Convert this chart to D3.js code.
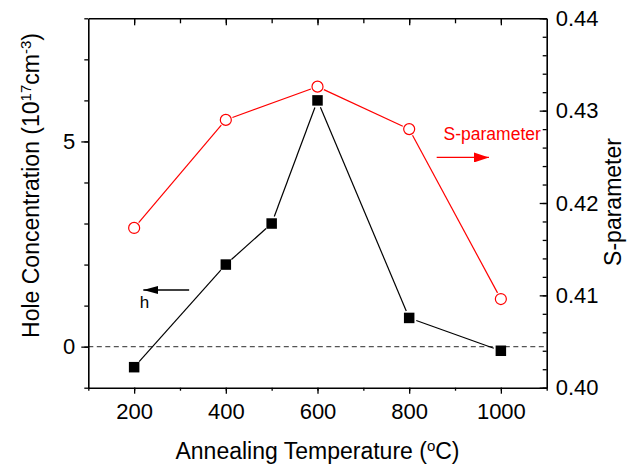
<!DOCTYPE html>
<html>
<head>
<meta charset="utf-8">
<script src="https://cdn.jsdelivr.net/npm/d3@7/dist/d3.min.js"></script>
<style>
  html, body { margin: 0; padding: 0; background: #fff; }
  svg { display: block; font-family: "Liberation Sans", Arial, sans-serif; }
</style>
</head>
<body>
<svg id="chart" width="631" height="466"></svg>
<script>
// Annealing temperatures (°C)
const temperatures = [200, 400, 500, 600, 800, 1000];
// Hole concentration (10^17 cm^-3)
const holeConc = [-0.5, 2.0, 3.0, 6.0, 0.7, -0.1];
// S-parameter temperatures and values
const sTemperatures = [200, 400, 600, 800, 1000];
const sParam = [0.4173, 0.4290, 0.4326, 0.4280, 0.4096];

// Tick values
const xMajorTicks = [200, 400, 600, 800, 1000];
const xMinorTicks = [100, 200, 300, 400, 500, 600, 700, 800, 900, 1000, 1100];
const yLeftMajorTicks = [0, 5];
const yLeftMinorTicks = [-1, 0, 1, 2, 3, 4, 5, 6, 7, 8];
const yRightMajorTicks = [0.40, 0.41, 0.42, 0.43, 0.44];
const yRightMinorTicks = d3.range(0, 21).map(i => +(0.40 + i * 0.002).toFixed(3));

const svg = d3.select("#chart");
const margin = { left: 88.3, top: 18.3, right: 631 - 546.7, bottom: 466 - 387.7 };
const W = 631 - margin.left - margin.right;
const H = 466 - margin.top - margin.bottom;

const g = svg.append("g").attr("transform", `translate(${margin.left},${margin.top})`);

const x = d3.scaleLinear().domain([100, 1100]).range([0, W]);
const yL = d3.scaleLinear().domain([-1, 8]).range([H, 0]);
const yR = d3.scaleLinear().domain([0.40, 0.44]).range([H, 0]);

// zero reference line
g.append("line")
  .attr("x1", 0).attr("x2", W)
  .attr("y1", yL(0)).attr("y2", yL(0))
  .attr("stroke", "#555").attr("stroke-width", 1.2)
  .attr("stroke-dasharray", "5,3.5");

// Shortened connecting segments leaving a gap around each marker
function gappedSegments(xs, ys, gap) {
  const segs = [];
  for (let i = 0; i < xs.length - 1; i++) {
    const x1 = xs[i], y1 = ys[i], x2 = xs[i + 1], y2 = ys[i + 1];
    const dx = x2 - x1, dy = y2 - y1, len = Math.hypot(dx, dy);
    const ux = dx / len, uy = dy / len;
    segs.push([x1 + ux * gap, y1 + uy * gap, x2 - ux * gap, y2 - uy * gap]);
  }
  return segs;
}

// S-parameter series (red, open circles)
const sx = sTemperatures.map(d => x(d));
const sy = sParam.map(d => yR(d));
g.append("g").selectAll("line")
  .data(gappedSegments(sx, sy, 7))
  .join("line")
  .attr("x1", d => d[0]).attr("y1", d => d[1])
  .attr("x2", d => d[2]).attr("y2", d => d[3])
  .attr("stroke", "#ff0000").attr("stroke-width", 1.2);
g.append("g").selectAll("circle")
  .data(sParam)
  .join("circle")
  .attr("cx", (d, i) => x(sTemperatures[i]))
  .attr("cy", d => yR(d))
  .attr("r", 5.5)
  .attr("fill", "#fff").attr("stroke", "#ff0000").attr("stroke-width", 1.2);

// Hole concentration series (black, filled squares)
const hx = temperatures.map(d => x(d));
const hy = holeConc.map(d => yL(d));
g.append("g").selectAll("line")
  .data(gappedSegments(hx, hy, 7.5))
  .join("line")
  .attr("x1", d => d[0]).attr("y1", d => d[1])
  .attr("x2", d => d[2]).attr("y2", d => d[3])
  .attr("stroke", "#000").attr("stroke-width", 1.2);
const sq = 10.5;
g.append("g").selectAll("rect")
  .data(holeConc)
  .join("rect")
  .attr("x", (d, i) => x(temperatures[i]) - sq / 2)
  .attr("y", d => yL(d) - sq / 2)
  .attr("width", sq).attr("height", sq)
  .attr("fill", "#000");

// Axes
function styleAxis(sel) {
  sel.selectAll("path.domain").attr("stroke", "#000").attr("stroke-width", 1.6);
  sel.selectAll(".tick line").attr("stroke", "#000").attr("stroke-width", 1.3);
  sel.selectAll(".tick text").attr("fill", "#000").attr("font-size", 22)
    .attr("font-family", "'Liberation Sans', Arial, sans-serif");
}

// bottom
g.append("g").attr("transform", `translate(0,${H})`)
  .call(d3.axisBottom(x).tickValues(xMinorTicks).tickSize(3).tickSizeOuter(0).tickFormat(""))
  .call(styleAxis);
g.append("g").attr("transform", `translate(0,${H})`)
  .call(d3.axisBottom(x).tickValues(xMajorTicks).tickSize(6).tickSizeOuter(0).tickPadding(9.5).tickFormat(d3.format("d")))
  .call(styleAxis)
  .call(a => a.select("path.domain").remove());
// top
g.append("g")
  .call(d3.axisTop(x).tickValues(xMinorTicks.filter(v => v > 100 && v < 1100)).tickSize(-5).tickSizeOuter(0).tickFormat(""))
  .call(styleAxis);
g.append("g")
  .call(d3.axisTop(x).tickValues(xMajorTicks).tickSize(-7).tickSizeOuter(0).tickFormat(""))
  .call(styleAxis)
  .call(a => a.select("path.domain").remove());
// left
g.append("g")
  .call(d3.axisLeft(yL).tickValues(yLeftMinorTicks).tickSize(4).tickSizeOuter(0).tickFormat(""))
  .call(styleAxis);
g.append("g")
  .call(d3.axisLeft(yL).tickValues(yLeftMajorTicks).tickSize(7).tickSizeOuter(0).tickPadding(6).tickFormat(d3.format("d")))
  .call(styleAxis)
  .call(a => a.select("path.domain").remove());
// right
g.append("g").attr("transform", `translate(${W},0)`)
  .call(d3.axisRight(yR).tickValues(yRightMinorTicks).tickSize(-4).tickSizeOuter(0).tickFormat(""))
  .call(styleAxis);
g.append("g").attr("transform", `translate(${W},0)`)
  .call(d3.axisRight(yR).tickValues(yRightMajorTicks).tickSize(-7).tickSizeOuter(0).tickPadding(9).tickFormat(d3.format(".2f")))
  .call(styleAxis)
  .call(a => a.select("path.domain").remove());

// Axis titles
const titleSize = 23;
const supSize = 15;
svg.append("text")
  .attr("x", margin.left + W / 2).attr("y", 459)
  .attr("text-anchor", "middle").attr("font-size", titleSize)
  .call(t => {
    t.append("tspan").text("Annealing Temperature (");
    t.append("tspan").attr("font-size", supSize).attr("dy", -8).text("o");
    t.append("tspan").attr("dy", 8).text("C)");
  });

svg.append("text")
  .attr("transform", `translate(38.5,185.5) rotate(-90)`)
  .attr("text-anchor", "middle").attr("font-size", titleSize)
  .call(t => {
    t.append("tspan").text("Hole Concentration (10");
    t.append("tspan").attr("font-size", supSize).attr("dy", -8).text("17");
    t.append("tspan").attr("dy", 8).text("cm");
    t.append("tspan").attr("font-size", supSize).attr("dy", -8).text("-3");
    t.append("tspan").attr("dy", 8).text(")");
  });

svg.append("text")
  .attr("transform", `translate(621,202) rotate(-90)`)
  .attr("text-anchor", "middle").attr("font-size", titleSize)
  .text("S-parameter");

// Series annotations with arrows
const defs = svg.append("defs");
function arrowHead(id, color, h) {
  defs.append("marker")
    .attr("id", id).attr("viewBox", `0 0 15 ${h}`)
    .attr("refX", 15).attr("refY", h / 2)
    .attr("markerWidth", 15).attr("markerHeight", h)
    .attr("markerUnits", "userSpaceOnUse")
    .attr("orient", "auto")
    .append("path").attr("d", `M0,0 L15,${h / 2} L0,${h} Z`).attr("fill", color);
}
arrowHead("arrowBlack", "#000", 8);
arrowHead("arrowRed", "#ff0000", 10);

// hole concentration -> left axis
g.append("line")
  .attr("x1", x(320)).attr("x2", x(220))
  .attr("y1", yL(1.38)).attr("y2", yL(1.38))
  .attr("stroke", "#000").attr("stroke-width", 1.3)
  .attr("marker-end", "url(#arrowBlack)");
g.append("text")
  .attr("x", x(212)).attr("y", yL(0.93))
  .attr("font-size", 17).text("h");

// S-parameter -> right axis
g.append("text")
  .attr("x", x(875)).attr("y", yR(0.42684))
  .attr("font-size", 17.5).attr("fill", "#ff0000").text("S-parameter");
g.append("line")
  .attr("x1", x(860)).attr("x2", x(974))
  .attr("y1", yR(0.42493)).attr("y2", yR(0.42493))
  .attr("stroke", "#ff0000").attr("stroke-width", 1.3)
  .attr("marker-end", "url(#arrowRed)");
</script>
</body>
</html>
